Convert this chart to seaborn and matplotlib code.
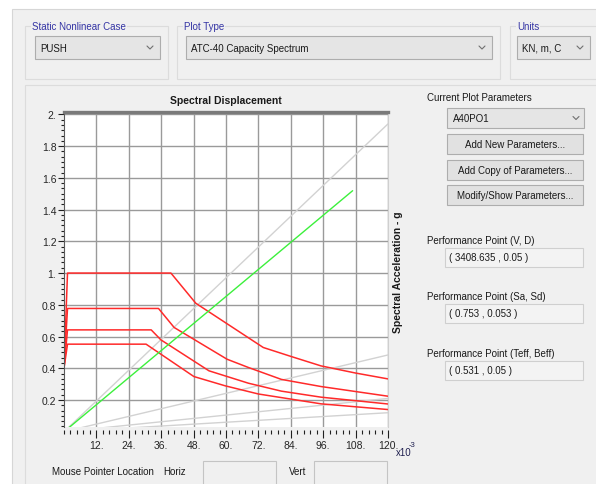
import numpy as np
import pandas as pd
import matplotlib
matplotlib.use("Agg")
import matplotlib.pyplot as plt
import seaborn as sns
from matplotlib.patches import Rectangle
from matplotlib.ticker import FixedLocator, FixedFormatter, MultipleLocator

# ---------------- data (Sd in 1e-3 m, Sa in g) ----------------
sd_ticks = [12, 24, 36, 48, 60, 72, 84, 96, 108, 120]
sd_labels = ["12.", "24.", "36.", "48.", "60.", "72.", "84.", "96.", "108.", "120."]
sa_ticks = [0.2, 0.4, 0.6, 0.8, 1.0, 1.2, 1.4, 1.6, 1.8, 2.0]
sa_labels = ["0.2", "0.4", "0.6", "0.8", "1.", "1.2", "1.4", "1.6", "1.8", "2."]

demand_a_sd = [0, 1.3, 39.6, 48.8, 73.8, 84.0, 95.2, 108.0, 120.0]
demand_a_sa = [0.40, 1.00, 1.00, 0.81, 0.531, 0.475, 0.415, 0.37, 0.333]
demand_b_sd = [0, 1.3, 35.0, 40.8, 60.4, 68.3, 80.5, 95.2, 120.0]
demand_b_sa = [0.40, 0.777, 0.777, 0.657, 0.457, 0.405, 0.33, 0.285, 0.224]
demand_c_sd = [0, 1.3, 32.3, 35.9, 53.7, 68.3, 80.5, 95.2, 120.0]
demand_c_sa = [0.40, 0.642, 0.642, 0.579, 0.384, 0.306, 0.256, 0.218, 0.175]
demand_d_sd = [0, 1.3, 30.4, 48.1, 59.8, 72.0, 95.2, 120.0]
demand_d_sa = [0.40, 0.552, 0.552, 0.348, 0.289, 0.238, 0.176, 0.14]

capacity_sd = [0, 106.9]
capacity_sa = [0, 1.519]

period_names = ["T0.5", "T1.0", "T1.5", "T2.0"]
period_end_sd = [120, 120, 120, 120]
period_end_sa = [1.94, 0.484, 0.21, 0.12]

# ---------------- style ----------------
sns.set_style("white")
plt.rcParams["font.family"] = ["Liberation Sans Narrow", "Liberation Sans", "DejaVu Sans"]

W, H = 596, 485
fig = plt.figure(figsize=(W / 100, H / 100), dpi=100, facecolor="white")
bg = fig.add_axes([0, 0, 1, 1], zorder=0)
bg.set_xlim(0, W)
bg.set_ylim(H, 0)
bg.axis("off")

UI = 7
def rect(x0, y0, x1, y1, fc, ec, lw=0.8):
    bg.add_patch(Rectangle((x0, y0), x1 - x0, y1 - y0, facecolor=fc,
                           edgecolor=ec, linewidth=lw))

def chevron(x, y, c="#707070"):
    bg.plot([x - 3, x, x + 3], [y - 1.5, y + 1.5, y - 1.5], color=c, lw=0.8)

def txt(x, y, s, **kw):
    kw.setdefault("fontsize", UI)
    kw.setdefault("va", "center")
    kw.setdefault("color", "#1a1a1a")
    bg.text(x, y, s, **kw)

# panels
rect(12, 10, 600, 490, "#f0f0f0", "#d6d6d6")
rect(25, 86, 600, 490, "#f0f0f0", "#dcdcdc")

# group boxes
for (x0, x1, lab, cx0, cx1, ctext) in [
        (25, 168, "Static Nonlinear Case", 35, 160, "PUSH"),
        (177, 500, "Plot Type", 186, 492, "ATC-40 Capacity Spectrum"),
        (510, 600, "Units", 517, 590, "KN, m, C")]:
    rect(x0, 27, x1, 80, "none", "#dcdcdc")
    bg.text(x0 + 7, 26.5, lab, fontsize=UI, va="center", color="#3434a4",
            bbox=dict(facecolor="#f0f0f0", edgecolor="none", pad=0.6))
    rect(cx0, 37, cx1, 60, "#e5e5e5", "#adadad")
    txt(cx0 + 5, 48.5, ctext)
    chevron(cx1 - 10, 48.5)

# right panel
txt(427, 98, "Current Plot Parameters")
rect(447, 109, 584, 129, "#e5e5e5", "#adadad")
txt(453, 119, "A40PO1")
chevron(576, 119)
for (y0, s) in [(135, "Add New Parameters..."), (161, "Add Copy of Parameters..."),
                (186, "Modify/Show Parameters...")]:
    rect(447, y0, 583, y0 + 20, "#e1e1e1", "#adadad")
    txt(515, y0 + 10, s, ha="center")
for (y, lab, val) in [(241, "Performance Point (V, D)", "( 3408.635 , 0.05 )"),
                      (297, "Performance Point (Sa, Sd)", "( 0.753 , 0.053 )"),
                      (354, "Performance Point (Teff, Beff)", "( 0.531 , 0.05 )")]:
    txt(427, y, lab)
    rect(445, y + 8, 583, y + 27, "#f3f3f3", "#cfcfcf")
    txt(449, y + 17.5, val)

# bottom
txt(52, 472, "Mouse Pointer Location")
txt(163, 472, "Horiz")
rect(203, 462, 276, 492, "#f0f0f0", "#c4c4c4")
txt(289, 472, "Vert")
rect(314, 462, 387, 492, "#f0f0f0", "#c4c4c4")

# plot titles
txt(226, 101, "Spectral Displacement", ha="center", fontsize=7.5, fontweight="bold")
txt(398, 272, "Spectral Acceleration - g", ha="center", fontsize=7.5,
    fontweight="bold", rotation=90)
txt(396, 453, "x10", fontsize=7, color="#202050")
txt(409, 446, "-3", fontsize=5.5, color="#202050")

# ---------------- plot ----------------
L, R, T, B = 64, 388, 113, 428
ax = fig.add_axes([L / W, (H - B) / H, (R - L) / W, (B - T) / H], zorder=2)
ax.set_facecolor("white")

period_df = pd.DataFrame({
    "sd": [v for e in period_end_sd for v in (0, e)],
    "sa": [v for e in period_end_sa for v in (0, e)],
    "line": [n for n in period_names for _ in (0, 1)],
})
for name, g in period_df.groupby("line"):
    sns.lineplot(data=g, x="sd", y="sa", ax=ax, color="#d2d2d2", lw=1.0,
                 sort=False, estimator=None, legend=False)

demand_df = pd.concat([
    pd.DataFrame({"sd": demand_a_sd, "sa": demand_a_sa, "curve": "a"}),
    pd.DataFrame({"sd": demand_b_sd, "sa": demand_b_sa, "curve": "b"}),
    pd.DataFrame({"sd": demand_c_sd, "sa": demand_c_sa, "curve": "c"}),
    pd.DataFrame({"sd": demand_d_sd, "sa": demand_d_sa, "curve": "d"}),
])
for name, g in demand_df.groupby("curve"):
    sns.lineplot(data=g, x="sd", y="sa", ax=ax, color="#ff2a2a", lw=1.1,
                 sort=False, estimator=None, legend=False)

cap_df = pd.DataFrame({"sd": capacity_sd, "sa": capacity_sa})
sns.lineplot(data=cap_df, x="sd", y="sa", ax=ax, color="#3cf03c", lw=1.0,
             sort=False, estimator=None, legend=False)

ax.set_xlim(0, 120)
ax.set_ylim(0.03, 2.015)
ax.set_xlabel("")
ax.set_ylabel("")

ax.xaxis.set_major_locator(FixedLocator(sd_ticks))
ax.xaxis.set_major_formatter(FixedFormatter(sd_labels))
ax.xaxis.set_minor_locator(MultipleLocator(2.4))
ax.yaxis.set_major_locator(FixedLocator(sa_ticks))
ax.yaxis.set_major_formatter(FixedFormatter(sa_labels))
ax.yaxis.set_minor_locator(MultipleLocator(0.2 / 6))

ax.grid(True, which="major", color="#9a9a9a", lw=1.0)
ax.set_axisbelow(True)

ax.tick_params(axis="x", which="major", direction="out", length=6, width=0.8,
               color="#202020", labelsize=7.5, pad=1.5, bottom=True)
ax.tick_params(axis="x", which="minor", direction="out", length=3, width=0.8,
               color="#202020", bottom=True)
ax.tick_params(axis="y", which="major", direction="out", length=4, width=0.8,
               color="#202020", labelsize=7.5, pad=1.5, left=True)
ax.tick_params(axis="y", which="minor", direction="out", length=2.2, width=0.8,
               color="#202020", left=True)
for lbl in ax.get_xticklabels():
    lbl.set_ha("right")

ax.spines["bottom"].set_position(("outward", 2))
ax.spines["bottom"].set_color("none")
ax.spines["top"].set_color("#7a7a7a")
ax.spines["top"].set_linewidth(2.4)
ax.spines["right"].set_color("#cfcfcf")
ax.spines["right"].set_linewidth(0.8)
ax.spines["left"].set_color("#5a5a5a")
ax.spines["left"].set_linewidth(0.8)

fig.savefig("out.png", dpi=100, facecolor=fig.get_facecolor())
